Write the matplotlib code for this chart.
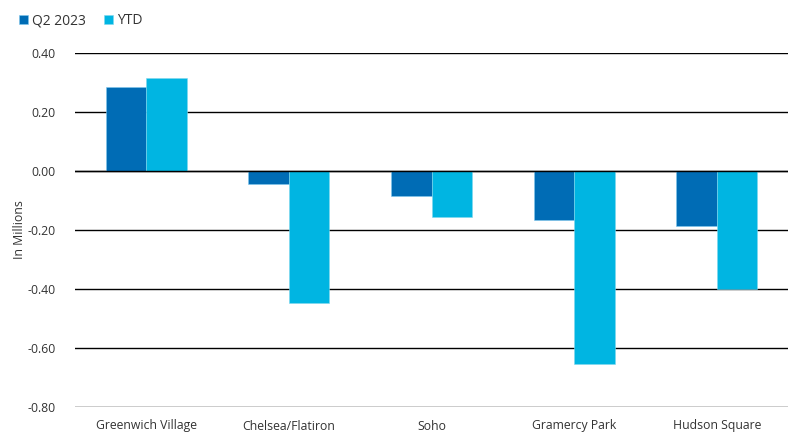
import numpy as np
import matplotlib.pyplot as plt

# Neighborhood change, in millions
NEIGHBORHOODS = ['Greenwich Village', 'Chelsea/Flatiron', 'Soho',
                 'Gramercy Park', 'Hudson Square']
Q2_2023 = [0.285, -0.044, -0.085, -0.166, -0.186]
YTD = [0.315, -0.447, -0.156, -0.654, -0.400]
Y_TICKS = [0.40, 0.20, 0.00, -0.20, -0.40, -0.60, -0.80]

DARK_BLUE = '#006cb5'
LIGHT_BLUE = '#00b5e2'
TEXT_COLOR = '#333333'

plt.rcParams['font.family'] = ['Open Sans', 'DejaVu Sans']

W, H = 788, 433
fig = plt.figure(figsize=(W / 100, H / 100), dpi=100)
ax = fig.add_axes([75 / W, 1 - 407 / H, (W - 75) / W, (407 - 53) / H])

x = np.arange(len(NEIGHBORHOODS))
width = 0.284
ax.bar(x - width / 2, Q2_2023, width, color=DARK_BLUE,
       edgecolor='#7fc8ee', linewidth=0.4, label='Q2 2023', zorder=3)
ax.bar(x + width / 2, YTD, width, color=LIGHT_BLUE,
       edgecolor='#7fd8ee', linewidth=0.4, label='YTD', zorder=3)

ax.set_xlim(-0.5, len(NEIGHBORHOODS) - 0.5)
ax.set_ylim(-0.8, 0.4)
ax.set_yticks(Y_TICKS)
ax.set_yticklabels([f'{v:.2f}' for v in Y_TICKS])
ax.set_xticks(x)
ax.set_xticklabels(NEIGHBORHOODS)
ax.yaxis.grid(True, color='black', linewidth=1.0, zorder=1)
ax.axhline(0, color='black', linewidth=1.0, zorder=4)
for side in ['top', 'right', 'left', 'bottom']:
    ax.spines[side].set_visible(False)
ax.tick_params(axis='both', length=0, labelsize=8.8, labelcolor=TEXT_COLOR)
ax.tick_params(axis='y', pad=14)
ax.tick_params(axis='x', pad=9)
ax.set_ylabel('In Millions', fontsize=8.8, color=TEXT_COLOR, labelpad=1)

fig.legend(loc='upper left', bbox_to_anchor=(6 / W, 1 - 1 / H), ncol=2,
           frameon=False, fontsize=10, handlelength=0.65, handleheight=0.65,
           handletextpad=0.3, columnspacing=1.3, labelcolor=TEXT_COLOR)

fig.savefig('out.png', dpi=100)
